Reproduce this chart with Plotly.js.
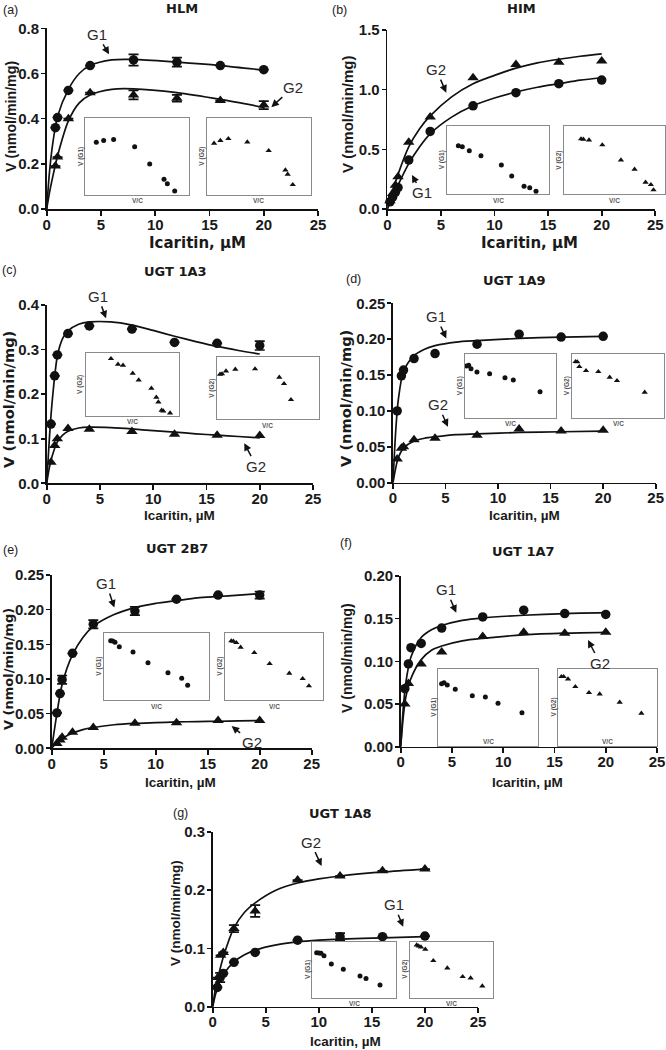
<!DOCTYPE html>
<html><head><meta charset="utf-8">
<script src="https://cdn.plot.ly/plotly-3.0.1.min.js"></script>
<style>html,body{margin:0;padding:0;background:#fff;}#c{width:666px;height:1050px;}</style>
</head><body><div id="c"></div>
<script>
// ---------------- DATA ----------------
// (a) HLM
const aX = [0.8, 1, 2, 4, 8, 12, 16, 20];
const aG1 = [0.36, 0.405, 0.525, 0.635, 0.66, 0.65, 0.635, 0.617];
const aG1err = [0, 0, 0, 0, 0.025, 0.02, 0, 0];
const aG2 = [0.19, 0.23, 0.40, 0.515, 0.505, 0.49, 0.48, 0.46];
const aG2err = [0, 0, 0, 0, 0.02, 0.015, 0, 0.018];
const aCx = [0, 0.25, 0.5, 1, 2, 3, 4, 6, 8, 12, 16, 20];
const aG1fit = [0, 0.16, 0.27, 0.41, 0.53, 0.6, 0.635, 0.66, 0.662, 0.65, 0.635, 0.615];
const aG2fit = [0, 0.07, 0.13, 0.235, 0.39, 0.47, 0.505, 0.53, 0.532, 0.515, 0.485, 0.45];
const aIn1x = [1.06, 1.77, 2.73, 4.76, 6.21, 7.59, 7.91, 8.62];
const aIn1y = [6.87, 7.09, 7.22, 6.30, 4.04, 2.04, 1.48, 0.52];
const aIn2x = [0.68, 1.29, 2.06, 3.89, 5.95, 7.56, 7.78, 8.27];
const aIn2y = [6.74, 7.09, 7.35, 6.91, 5.78, 3.26, 2.70, 1.35];

// (b) HIM
const bX = [0.25, 0.5, 0.75, 1, 2, 4, 8, 12, 16, 20];
const bG1 = [0.06, 0.1, 0.14, 0.18, 0.41, 0.65, 0.865, 0.975, 1.05, 1.08];
const bG2 = [0.07, 0.13, 0.2, 0.27, 0.56, 0.77, 1.1, 1.21, 1.23, 1.24];
const bCx = [0, 0.5, 1, 2, 3, 4, 6, 8, 10, 12, 14, 16, 18, 20];
const bG1fit = [0, 0.1, 0.2, 0.38, 0.52, 0.63, 0.77, 0.865, 0.93, 0.98, 1.02, 1.05, 1.08, 1.10];
const bG2fit = [0, 0.15, 0.29, 0.52, 0.67, 0.78, 0.94, 1.05, 1.12, 1.18, 1.225, 1.255, 1.28, 1.30];
const bIn1x = [1.09, 1.48, 2.17, 3.32, 5.33, 6.35, 7.57, 8.13, 8.75];
const bIn1y = [7.11, 6.96, 6.37, 5.64, 4.26, 2.65, 1.13, 0.93, 0.39];
const bIn2x = [1.72, 1.95, 2.51, 3.83, 5.68, 7.03, 8.12, 8.65, 8.91];
const bIn2y = [8.09, 8.04, 7.94, 7.21, 5.0, 3.63, 1.72, 1.37, 0.59];

// (c) UGT 1A3
const cX = [0.4, 0.75, 1, 2, 4, 8, 12, 16, 20];
const cG1 = [0.133, 0.241, 0.288, 0.336, 0.353, 0.346, 0.316, 0.314, 0.309];
const cG1err = [0, 0, 0, 0, 0, 0, 0, 0, 0.01];
const cG2 = [0.047, 0.085, 0.1, 0.123, 0.121, 0.116, 0.11, 0.108, 0.107];
const cCx = [0, 0.25, 0.5, 1, 1.5, 2, 3, 4, 6, 8, 10, 12, 14, 16, 18, 20];
const cG1fit = [0, 0.1, 0.18, 0.285, 0.325, 0.342, 0.357, 0.362, 0.362, 0.355, 0.343, 0.33, 0.318, 0.307, 0.298, 0.29];
const cG2fit = [0, 0.035, 0.06, 0.093, 0.108, 0.117, 0.124, 0.126, 0.125, 0.122, 0.118, 0.115, 0.111, 0.108, 0.105, 0.102];
const cIn1x = [2.71, 3.46, 4.0, 5.04, 5.68, 7.04, 7.57, 7.79, 8.14, 8.32, 9.04];
const cIn1y = [9.05, 8.15, 7.99, 6.72, 5.66, 4.34, 2.91, 2.17, 0.85, 0.74, 0.42];
const cIn2x = [0.33, 0.52, 0.91, 1.82, 3.75, 6.12, 6.58, 7.26];
const cIn2y = [7.24, 7.3, 7.78, 8.05, 8.11, 6.76, 5.73, 3.14];

// (d) UGT 1A9
const dX = [0.4, 0.8, 1, 2, 4, 8, 12, 16, 20];
const dG1 = [0.1, 0.149, 0.157, 0.173, 0.18, 0.193, 0.207, 0.203, 0.204];
const dG2 = [0.033, 0.048, 0.05, 0.06, 0.062, 0.066, 0.075, 0.072, 0.073];
const dCx = [0, 0.25, 0.5, 1, 2, 3, 4, 6, 8, 12, 16, 20];
const dG1fit = [0, 0.07, 0.115, 0.155, 0.177, 0.186, 0.191, 0.196, 0.198, 0.201, 0.203, 0.204];
const dG2fit = [0, 0.02, 0.035, 0.048, 0.058, 0.062, 0.064, 0.067, 0.068, 0.07, 0.071, 0.072];
const dIn1x = [0.15, 0.37, 0.63, 1.29, 2.69, 4.39, 5.31, 8.27];
const dIn1y = [8.16, 8.26, 7.74, 7.21, 6.95, 6.32, 5.95, 4.11];
const dIn2x = [0.36, 0.55, 0.77, 1.5, 2.85, 4.09, 4.89, 7.92];
const dIn2y = [8.84, 8.79, 8.05, 7.42, 7.26, 6.37, 5.84, 4.0];

// (e) UGT 2B7
const eX = [0.5, 0.8, 1, 2, 4, 8, 12, 16, 20];
const eG1 = [0.051, 0.079, 0.099, 0.137, 0.179, 0.198, 0.215, 0.221, 0.221];
const eG1err = [0, 0, 0.006, 0, 0.006, 0.006, 0, 0, 0.005];
const eG2 = [0.007, 0.012, 0.016, 0.023, 0.03, 0.036, 0.037, 0.04, 0.04];
const eCx = [0, 0.5, 1, 2, 3, 4, 6, 8, 10, 12, 14, 16, 18, 20];
const eG1fit = [0, 0.05, 0.092, 0.135, 0.16, 0.176, 0.193, 0.203, 0.209, 0.213, 0.217, 0.219, 0.221, 0.223];
const eG2fit = [0, 0.008, 0.014, 0.022, 0.027, 0.03, 0.034, 0.036, 0.037, 0.038, 0.0385, 0.039, 0.0395, 0.04];
const eIn1x = [0.64, 0.83, 1.05, 1.46, 2.77, 4.2, 6.11, 7.42, 7.99];
const eIn1y = [8.9, 8.85, 8.65, 8.0, 7.2, 5.6, 4.1, 3.25, 2.2];
const eIn2x = [0.64, 0.85, 1.15, 1.59, 2.98, 4.54, 6.54, 7.9, 8.54];
const eIn2y = [8.85, 8.8, 8.6, 7.9, 7.1, 5.45, 4.0, 3.2, 2.1];

// (f) UGT 1A7
const fX1 = [0.4, 0.75, 1, 2, 4, 8, 12, 16, 20];
const fG1 = [0.068, 0.097, 0.116, 0.121, 0.139, 0.152, 0.16, 0.156, 0.155];
const fX2 = [0.4, 0.75, 2, 4, 8, 12, 16, 20];
const fG2 = [0.05, 0.074, 0.097, 0.111, 0.129, 0.134, 0.133, 0.134];
const fCx = [0, 0.25, 0.5, 1, 2, 3, 4, 6, 8, 12, 16, 20];
const fG1fit = [0, 0.045, 0.075, 0.105, 0.128, 0.137, 0.142, 0.148, 0.151, 0.154, 0.156, 0.157];
const fG2fit = [0, 0.035, 0.058, 0.08, 0.102, 0.113, 0.118, 0.124, 0.127, 0.131, 0.133, 0.134];
const fIn1x = [0.33, 0.57, 0.9, 1.7, 3.41, 4.72, 5.99, 8.39];
const fIn1y = [8.1, 8.23, 7.92, 7.36, 6.54, 6.36, 5.54, 4.33];
const fIn2x = [0.34, 0.57, 1.01, 1.75, 3.13, 4.21, 6.23, 8.42];
const fIn2y = [9.0, 9.0, 8.7, 7.71, 6.93, 6.75, 5.67, 4.24];

// (g) UGT 1A8
const gX = [0.44, 0.7, 1, 2, 4, 8, 12, 16, 20];
const gG1 = [0.033, 0.05, 0.057, 0.076, 0.093, 0.114, 0.12, 0.12, 0.121];
const gG1err = [0, 0.008, 0, 0, 0, 0, 0.006, 0, 0];
const gX2 = [0.5, 0.75, 1, 2, 4, 8, 12, 16, 20];
const gG2 = [0.05, 0.088, 0.093, 0.134, 0.164, 0.217, 0.224, 0.233, 0.236];
const gG2err = [0, 0, 0, 0.006, 0.01, 0, 0, 0, 0];
const gCx = [0, 0.25, 0.5, 1, 2, 3, 4, 6, 8, 10, 12, 16, 20];
const gG1fit = [0, 0.02, 0.035, 0.055, 0.077, 0.089, 0.097, 0.106, 0.111, 0.114, 0.116, 0.118, 0.12];
const gG2fit = [0, 0.03, 0.05, 0.085, 0.135, 0.162, 0.178, 0.2, 0.212, 0.219, 0.224, 0.231, 0.236];
const gIn1x = [0.52, 0.8, 1.04, 1.4, 2.28, 3.72, 5.72, 6.44, 8.12];
const gIn1y = [8.04, 7.98, 7.92, 7.5, 6.0, 5.06, 3.87, 3.45, 2.26];
const gIn2x = [0.8, 1.04, 1.32, 1.84, 2.8, 4.48, 6.32, 7.28, 8.68];
const gIn2y = [9.4, 9.23, 9.05, 8.63, 6.61, 5.3, 3.75, 3.51, 2.08];

const xTicks = [0, 5, 10, 15, 20, 25];
const xTitle = 'Icaritin, µM';
const yTitle = 'V (nmol/min/mg)';

// ---------------- LAYOUT HELPERS ----------------
const W = 666, H = 1050;
const PX = v => v / W, PY = v => 1 - v / H;
const F = 'Liberation Sans, Arial, sans-serif';
const FD = 'DejaVu Sans, sans-serif';

const panels = [
  {tag:'(a)', name:'HLM', L:46.7, R:318, T:28.3, B:209, ymax:0.8, dtick:0.2, fmt:'.1f',
   tagPos:[10,10], namePos:[182,9],
   xt:{x:197, y:243, f:FD, s:15}, yt:{x:11, y:117, f:F, s:14.2},
   s1:{x:aX, y:aG1, e:aG1err}, s2:{x:aX, y:aG2, e:aG2err}, cx:aCx, f1:aG1fit, f2:aG2fit,
   ins:[{L:85.3,R:189,T:118.3,B:195,x:aIn1x,y:aIn1y,sym:'circle',lab:'V (G1)'},
        {L:207,R:310.7,T:118.3,B:195,x:aIn2x,y:aIn2y,sym:'triangle-up',lab:'V (G2)'}],
   ann:[{t:'G1',x:5.75,y:0.685,ax:-12,ay:-20},{t:'G2',x:20.7,y:0.451,ax:22,ay:-20}]},
  {tag:'(b)', name:'HIM', L:387.3, R:655.3, T:30, B:209, ymax:1.5, dtick:0.5, fmt:'.1f',
   tagPos:[339,10], namePos:[521,9],
   xt:{x:529, y:243, f:FD, s:15}, yt:{x:348, y:114, f:F, s:15},
   s1:{x:bX, y:bG1}, s2:{x:bX, y:bG2}, cx:bCx, f1:bG1fit, f2:bG2fit,
   ins:[{L:447.3,R:548.7,T:126,B:194,x:bIn1x,y:bIn1y,sym:'circle',lab:'V (G1)'},
        {L:563.7,R:664.5,T:126,B:194,x:bIn2x,y:bIn2y,sym:'triangle-up',lab:'V (G2)'}],
   ann:[{t:'G2',x:5.5,y:0.975,ax:-10,ay:-23},{t:'G1',x:2.3,y:0.285,ax:10,ay:18}]},
  {tag:'(c)', name:'UGT 1A3', L:46.7, R:313, T:305, B:483.3, ymax:0.4, dtick:0.1, fmt:'.1f',
   tagPos:[9,270], namePos:[175,271.7],
   xt:{x:179.5, y:515, f:F, s:13.5}, yt:{x:8, y:400, f:FD, s:14.6},
   s1:{x:cX, y:cG1, e:cG1err}, s2:{x:cX, y:cG2}, cx:cCx, f1:cG1fit, f2:cG2fit,
   ins:[{L:85.7,R:179,T:352.7,B:415.7,x:cIn1x,y:cIn1y,sym:'triangle-up',lab:'V (G2)'},
        {L:216.7,R:319,T:357.3,B:419,x:cIn2x,y:cIn2y,sym:'triangle-up',lab:'V (G2)'}],
   ann:[{t:'G1',x:5.57,y:0.37,ax:-8,ay:-22},{t:'G2',x:18.55,y:0.09,ax:12,ay:23}]},
  {tag:'(d)', name:'UGT 1A9', L:393, R:655.7, T:303.3, B:482.7, ymax:0.25, dtick:0.05, fmt:'.2f',
   tagPos:[353,279], namePos:[514.7,280.7],
   xt:{x:524.7, y:515, f:F, s:13.5}, yt:{x:345, y:399, f:FD, s:14.6},
   s1:{x:dX, y:dG1}, s2:{x:dX, y:dG2}, cx:dCx, f1:dG1fit, f2:dG2fit,
   ins:[{L:465.3,R:555.7,T:354.3,B:417.7,x:dIn1x,y:dIn1y,sym:'circle',lab:'V (G1)'},
        {L:572.3,R:663.7,T:354.3,B:417.7,x:dIn2x,y:dIn2y,sym:'triangle-up',lab:'V (G2)'}],
   ann:[{t:'G1',x:5.07,y:0.201,ax:-10,ay:-22},{t:'G2',x:5.23,y:0.078,ax:-10,ay:-22}]},
  {tag:'(e)', name:'UGT 2B7', L:51.7, R:311.7, T:575, B:748.3, ymax:0.25, dtick:0.05, fmt:'.2f',
   tagPos:[10,550], namePos:[176.7,548.3],
   xt:{x:180, y:782, f:F, s:13.5}, yt:{x:8, y:669, f:FD, s:13},
   s1:{x:eX, y:eG1, e:eG1err}, s2:{x:eX, y:eG2}, cx:eCx, f1:eG1fit, f2:eG2fit,
   ins:[{L:104,R:208.7,T:633.3,B:700,x:eIn1x,y:eIn1y,sym:'circle',lab:'V (G1)'},
        {L:225,R:323.3,T:633.3,B:700,x:eIn2x,y:eIn2y,sym:'triangle-up',lab:'V (G2)'}],
   ann:[{t:'G1',x:6.02,y:0.203,ax:-8,ay:-24},{t:'G2',x:17.3,y:0.032,ax:20,ay:16}]},
  {tag:'(f)', name:'UGT 1A7', L:400.7, R:657, T:576, B:746.7, ymax:0.2, dtick:0.05, fmt:'.2f',
   tagPos:[346,543], namePos:[523,551.7],
   xt:{x:527, y:782, f:F, s:13.5}, yt:{x:347, y:658, f:F, s:14},
   s1:{x:fX1, y:fG1}, s2:{x:fX2, y:fG2}, cx:fCx, f1:fG1fit, f2:fG2fit,
   ins:[{L:438.3,R:538,T:669,B:746,x:fIn1x,y:fIn1y,sym:'circle',lab:'V (G1)',vc:741},
        {L:558,R:657,T:669,B:746,x:fIn2x,y:fIn2y,sym:'triangle-up',lab:'V (G2)',vc:741}],
   ann:[{t:'G1',x:5.42,y:0.157,ax:-10,ay:-23},{t:'G2',x:18.27,y:0.125,ax:12,ay:23}]},
  {tag:'(g)', name:'UGT 1A8', L:212.7, R:478, T:831.7, B:1006.7, ymax:0.3, dtick:0.1, fmt:'.1f',
   tagPos:[180,813], namePos:[340,813.3],
   xt:{x:345, y:1041, f:F, s:13.5}, yt:{x:175, y:913, f:F, s:13.5},
   s1:{x:gX, y:gG1, e:gG1err}, s2:{x:gX2, y:gG2, e:gG2err}, cx:gCx, f1:gG1fit, f2:gG2fit,
   ins:[{L:312.3,R:395.7,T:941.7,B:997.7,x:gIn1x,y:gIn1y,sym:'circle',lab:'V (G1)'},
        {L:410,R:493.3,T:941.7,B:997.7,x:gIn2x,y:gIn2y,sym:'triangle-up',lab:'V (G2)'}],
   ann:[{t:'G2',x:10.26,y:0.241,ax:-11,ay:-24},{t:'G1',x:17.95,y:0.137,ax:-9,ay:-22}]}
];

const traces = [];
const layout = {
  width: W, height: H, margin: {l:0, r:0, t:0, b:0},
  paper_bgcolor: '#fff', plot_bgcolor: 'rgba(0,0,0,0)',
  showlegend: false, annotations: [], font: {family: F, color: '#000'}
};

const boldTick = {family: F, size: 15, weight: 'bold', color: '#1a1a1a'};

function errObj(e) {
  if (!e) return undefined;
  return {type: 'data', array: e, visible: true, thickness: 1.7, width: 5, color: '#111'};
}

let axN = 0;
panels.forEach(p => {
  axN++;
  const n = axN, xs = n === 1 ? '' : n, xa = 'x' + xs, ya = 'y' + xs;
  layout['xaxis' + xs] = {
    domain: [PX(p.L), PX(p.R)], range: [0, 25], anchor: ya, tickvals: xTicks,
    ticks: 'outside', ticklen: 5, tickwidth: 1.6, tickcolor: '#111', ticklabelstandoff: -4,
    showline: true, linewidth: 1.6, linecolor: '#111', showgrid: false, zeroline: false,
    tickfont: boldTick
  };
  layout['yaxis' + xs] = {
    domain: [PY(p.B), PY(p.T)], range: [0, p.ymax], anchor: xa, dtick: p.dtick, tick0: 0,
    tickformat: p.fmt, ticks: 'outside', ticklen: 4, tickwidth: 1.6, tickcolor: '#111',
    ticklabelstandoff: -1,
    showline: true, linewidth: 1.6, linecolor: '#111', showgrid: false, zeroline: false,
    tickfont: boldTick
  };
  traces.push({x: p.cx, y: p.f1, xaxis: xa, yaxis: ya, mode: 'lines', type: 'scatter',
    line: {color: '#111', width: 1.7, shape: 'spline', smoothing: 0.8}, hoverinfo: 'skip', cliponaxis: false});
  traces.push({x: p.cx, y: p.f2, xaxis: xa, yaxis: ya, mode: 'lines', type: 'scatter',
    line: {color: '#111', width: 1.7, shape: 'spline', smoothing: 0.8}, hoverinfo: 'skip', cliponaxis: false});
  traces.push({x: p.s1.x, y: p.s1.y, xaxis: xa, yaxis: ya, mode: 'markers', type: 'scatter',
    marker: {symbol: 'circle', size: 9.5, color: '#111'}, error_y: errObj(p.s1.e), cliponaxis: false});
  traces.push({x: p.s2.x, y: p.s2.y, xaxis: xa, yaxis: ya, mode: 'markers', type: 'scatter',
    marker: {symbol: 'triangle-up', size: 10, color: '#111'}, error_y: errObj(p.s2.e), cliponaxis: false});

  // axis titles (placed as annotations for exact position)
  layout.annotations.push({xref: 'paper', yref: 'paper', x: PX(p.xt.x), y: PY(p.xt.y),
    text: xTitle, showarrow: false, xanchor: 'center', yanchor: 'middle',
    font: {family: p.xt.f, size: p.xt.s, weight: 'bold', color: '#1a1a1a'}});
  layout.annotations.push({xref: 'paper', yref: 'paper', x: PX(p.yt.x), y: PY(p.yt.y),
    text: yTitle, showarrow: false, xanchor: 'center', yanchor: 'middle', textangle: -90,
    font: {family: p.yt.f, size: p.yt.s, weight: 'bold', color: '#1a1a1a'}});

  // panel tag and title
  layout.annotations.push({xref: 'paper', yref: 'paper', x: PX(p.tagPos[0]), y: PY(p.tagPos[1]),
    text: p.tag, showarrow: false, xanchor: 'center', yanchor: 'middle',
    font: {family: F, size: 12.5, color: '#222'}});
  layout.annotations.push({xref: 'paper', yref: 'paper', x: PX(p.namePos[0]), y: PY(p.namePos[1]),
    text: p.name, showarrow: false, xanchor: 'center', yanchor: 'middle',
    font: {family: FD, size: 13, weight: 'bold', color: '#1a1a1a'}});
  // G1/G2 labels
  p.ann.forEach(a => layout.annotations.push({xref: xa, yref: ya, x: a.x, y: a.y, ax: a.ax, ay: a.ay,
    text: a.t, showarrow: true, arrowhead: 2, arrowsize: 1, arrowwidth: 1.5, arrowcolor: '#111',
    font: {family: F, size: 15, color: '#2a2a2a'}}));

  // insets
  p.ins.forEach(ins => {
    axN++;
    const m = axN, ixa = 'x' + m, iya = 'y' + m;
    const box = {showline: true, mirror: true, linewidth: 1.1, linecolor: '#8a8a8a', showgrid: false,
      zeroline: false, showticklabels: false, ticks: '', range: [0, 10]};
    layout['xaxis' + m] = Object.assign({domain: [PX(ins.L), PX(ins.R)], anchor: iya}, box);
    layout['yaxis' + m] = Object.assign({domain: [PY(ins.B), PY(ins.T)], anchor: ixa}, box);
    traces.push({x: ins.x, y: ins.y, xaxis: ixa, yaxis: iya, mode: 'markers', type: 'scatter',
      marker: {symbol: ins.sym, size: ins.sym === 'circle' ? 5 : 5.5, color: '#111'}, cliponaxis: false});
    layout.annotations.push({xref: 'paper', yref: 'paper', x: PX((ins.L + ins.R) / 2),
      y: PY(ins.vc !== undefined ? ins.vc : ins.B + 6),
      text: 'V/C', showarrow: false, xanchor: 'center', yanchor: 'middle',
      font: {family: F, size: 6.5, weight: 'bold', color: '#555'}});
    layout.annotations.push({xref: 'paper', yref: 'paper', x: PX(ins.L - 5), y: PY((ins.T + ins.B) / 2),
      text: ins.lab, showarrow: false, xanchor: 'center', yanchor: 'middle', textangle: -90,
      font: {family: F, size: 6.5, weight: 'bold', color: '#555'}});
  });
});

Plotly.newPlot('c', traces, layout, {staticPlot: true, displayModeBar: false});
</script>
</body></html>
